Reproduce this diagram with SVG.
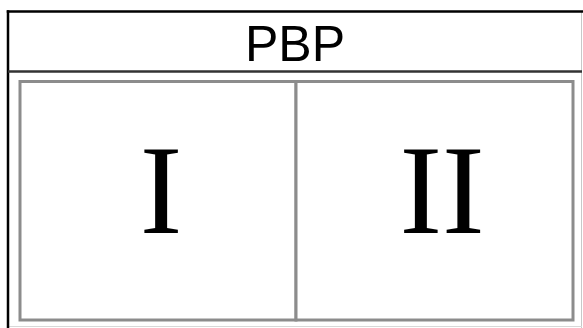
<svg xmlns="http://www.w3.org/2000/svg" width="583" height="328" viewBox="0 0 583 328">
<style>
.panel{fill:#fff;stroke:#8c8c8c;stroke-width:3}
.roman{font-family:"Liberation Serif",serif;font-size:128px;fill:#000;text-anchor:middle}
.title{font-family:"Liberation Sans",Arial,sans-serif;font-size:50px;fill:#000;text-anchor:middle}
</style>
<rect width="583" height="328" fill="#fff"/>
<g id="outer">
<line x1="581.5" y1="11.5" x2="581.5" y2="328" stroke="#c8c8c8" stroke-width="1"/>
<line x1="8" y1="326.5" x2="582" y2="326.5" stroke="#d8d8d8" stroke-width="1"/>
<line x1="6.75" y1="11.5" x2="583" y2="11.5" stroke="#000" stroke-width="2.5"/>
<line x1="8" y1="10.25" x2="8" y2="328" stroke="#000" stroke-width="2.5"/>
<line x1="8" y1="71.5" x2="582" y2="71.5" stroke="#333" stroke-width="2.5"/>
</g>
<g id="title"><text class="title" x="295" y="61">PBP</text></g>
<g id="panel-I">
<rect class="panel" x="20" y="81.5" width="276" height="238.5"/>
<text class="roman" x="161" y="233">I</text>
</g>
<g id="panel-II">
<rect class="panel" x="296" y="81.5" width="277" height="238.5"/>
<text class="roman" x="442" y="233">II</text>
</g>
</svg>
